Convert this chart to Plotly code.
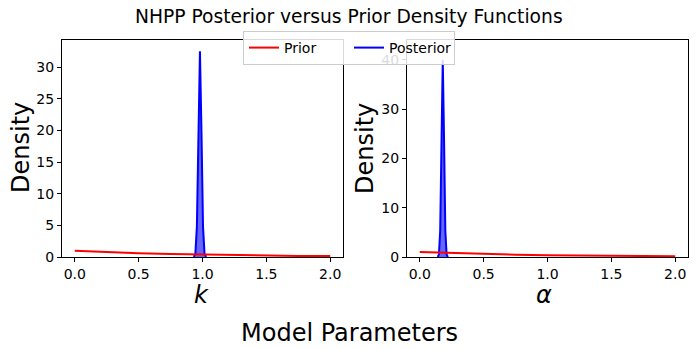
import plotly.graph_objects as go
from plotly.subplots import make_subplots

# ─── Data ─────────────────────────────────────────────────────────────────────
prior_x = [0.0, 0.25, 0.5, 0.75, 1.0, 1.25, 1.5, 1.75, 2.0]
prior_y = [1.0, 0.78, 0.61, 0.47, 0.37, 0.29, 0.22, 0.17, 0.14]

post_k_x = [0.932, 0.944, 0.956, 0.968, 0.98, 0.992, 1.004, 1.016, 1.028]
post_k_y = [0.0, 0.5, 4.8, 19.7, 32.5, 19.7, 4.8, 0.5, 0.0]

post_a_x = [0.14, 0.15, 0.16, 0.17, 0.18, 0.19, 0.20, 0.21, 0.22]
post_a_y = [0.0, 0.5, 5.4, 24.0, 40.0, 24.0, 5.4, 0.5, 0.0]

x_ticks = [0.0, 0.5, 1.0, 1.5, 2.0]
k_yticks = [0, 5, 10, 15, 20, 25, 30]
a_yticks = [0, 10, 20, 30, 40]

# ─── Style ────────────────────────────────────────────────────────────────────
FONT = "DejaVu Sans"
RED = "#ff0000"
BLUE = "#0000ff"
W, H = 698, 349

fig = make_subplots(rows=1, cols=2)

panels = [
    (1, post_k_x, post_k_y),
    (2, post_a_x, post_a_y),
]
for col, px_, py_ in panels:
    fig.add_trace(go.Scatter(
        x=px_, y=py_, mode="lines", name="Posterior",
        line=dict(color=BLUE, width=2),
        fill="tozeroy", fillcolor="rgba(0,0,255,0.6)",
        showlegend=False, hoverinfo="skip",
    ), row=1, col=col)
    fig.add_trace(go.Scatter(
        x=prior_x, y=prior_y, mode="lines", name="Prior",
        line=dict(color=RED, width=2),
        showlegend=(col == 1), legendrank=1, hoverinfo="skip",
    ), row=1, col=col)

# legend-only entry so the Posterior key shows a plain line
fig.add_trace(go.Scatter(
    x=[None], y=[None], mode="lines", name="Posterior",
    line=dict(color=BLUE, width=2), legendrank=2,
), row=1, col=1)

axis_common = dict(
    showline=True, mirror=True, linecolor="black", linewidth=1,
    ticks="outside", ticklen=4, tickwidth=1, tickcolor="black",
    showgrid=False, zeroline=False, automargin=False,
    tickfont=dict(family=FONT, size=14, color="black"),
)

y_top = 1 - 40 / H
y_bot = 1 - 257 / H

fig.update_xaxes(**axis_common, range=[-0.1, 2.1], tickvals=x_ticks, tickformat=".1f")
fig.update_yaxes(**axis_common, domain=[y_bot, y_top])

fig.update_xaxes(domain=[62 / W, 343 / W], row=1, col=1)
fig.update_xaxes(domain=[407 / W, 688 / W], row=1, col=2)
fig.update_yaxes(range=[0, 34.3], tickvals=k_yticks, row=1, col=1)
fig.update_yaxes(range=[0, 44], tickvals=a_yticks, row=1, col=2)

# axis labels placed as paper annotations (pixel positions from the reference)
labels = [
    ("Density", 21, 148, -90),
    ("Density", 365, 148, -90),
    ("<i>k</i>", 202, 295, 0),
    ("<i>α</i>", 544, 295, 0),
    ("Model Parameters", 349, 333, 0),
]
for text, px_, py_, ang in labels:
    fig.add_annotation(
        text=text, x=px_ / W, y=1 - py_ / H, xref="paper", yref="paper",
        xanchor="center", yanchor="middle", textangle=ang, showarrow=False,
        font=dict(family=FONT, size=24, color="black"),
    )

fig.add_annotation(
    text="NHPP Posterior versus Prior Density Functions", x=0.5, y=1 - 16 / H,
    xref="paper", yref="paper", yanchor="middle", showarrow=False,
    font=dict(family=FONT, size=18.7, color="black"),
)

fig.update_layout(
    width=W, height=H,
    paper_bgcolor="white", plot_bgcolor="white",
    margin=dict(l=0, r=0, t=0, b=0, autoexpand=False),
    font=dict(family=FONT, color="black"),
    legend=dict(
        orientation="h", x=0.5, xanchor="center", y=1 - 31 / H, yanchor="top",
        bgcolor="rgba(255,255,255,0.85)", bordercolor="#cccccc", borderwidth=1,
        font=dict(family=FONT, size=14, color="black"),
        entrywidth=60,
    ),
)

# drop the browser's default 8px body margin so the figure sits at the window corner
fig.write_html("out.html", config={"displayModeBar": False},
               post_script="document.body.style.margin='0';")
